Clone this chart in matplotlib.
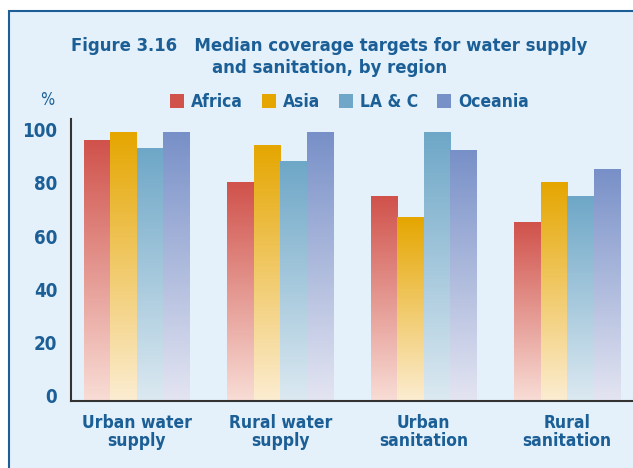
import numpy as np
import matplotlib
matplotlib.use("Agg")
import matplotlib.pyplot as plt
from matplotlib.patches import Rectangle, Patch
from matplotlib.colors import LinearSegmentedColormap

# --- datos ---
categorias = ["Urban water\nsupply", "Rural water\nsupply", "Urban\nsanitation", "Rural\nsanitation"]
regiones = ["Africa", "Asia", "LA & C", "Oceania"]
africa = [96, 80, 75, 65]
asia = [99, 94, 67, 80]
lac = [93, 88, 99, 75]
oceania = [99, 99, 92, 85]
ticks_y = [0, 20, 40, 60, 80, 100]

# colores (arriba, abajo) de cada degradado
colores = [("#d0524b", "#f8ddd6"),
           ("#e5a600", "#fcedd2"),
           ("#6ea7c7", "#dce9f1"),
           ("#7890c8", "#e4e5f2")]

AZUL = "#1b5f96"
FONDO = "#e4f1fb"

plt.rcParams['font.family'] = ['DejaVu Sans']
plt.rcParams['font.stretch'] = 'condensed'

fig = plt.figure(figsize=(6.33, 4.68), dpi=100)
fig.patch.set_facecolor("white")
# marco del recuadro
fig.patches.append(Rectangle((9 / 633, -0.05), 1.2, 1 - 11 / 468 + 0.05,
                             transform=fig.transFigure, facecolor=FONDO,
                             edgecolor=AZUL, lw=1.5, zorder=-5))

ax = fig.add_axes([71 / 633, 67 / 468, 1 - 71 / 633, 282 / 468])
ax.set_facecolor("none")

YMIN, YMAX = -2, 104
ancho = 0.184
x = np.arange(len(categorias))
series = [africa, asia, lac, oceania]

# barras con degradado (oscuro arriba, claro abajo)
for i, (vals, (c_top, c_bot)) in enumerate(zip(series, colores)):
    cmap = LinearSegmentedColormap.from_list("g%d" % i, [c_bot, c_top])
    grad = np.linspace(0, 1, 256).reshape(-1, 1)
    for j, v in enumerate(vals):
        x0 = x[j] + (i - 2) * ancho
        ax.imshow(grad, extent=(x0, x0 + ancho, YMIN, v), origin="lower",
                  cmap=cmap, aspect="auto", zorder=2, interpolation="bilinear")

ax.set_xlim(-0.458, 3.458)
ax.set_ylim(YMIN, YMAX)

for s in ["top", "right"]:
    ax.spines[s].set_visible(False)
for s in ["left", "bottom"]:
    ax.spines[s].set_color("#333333")
    ax.spines[s].set_linewidth(1.5)

ax.set_yticks(ticks_y)
ax.set_yticklabels([str(t) for t in ticks_y], fontsize=13.5, fontweight="bold", color=AZUL)
ax.tick_params(axis="y", length=0, pad=10)
ax.set_xticks(x)
ax.set_xticklabels(categorias, fontsize=12.5, fontweight="bold", color=AZUL, linespacing=1.05)
ax.tick_params(axis="x", length=0, pad=9)

fig.text(0.52, 1 - 57 / 468, "Figure 3.16   Median coverage targets for water supply\nand sanitation, by region",
         ha="center", va="center", fontsize=13.2, fontweight="bold", color=AZUL, linespacing=1.35)
fig.text(47 / 633, 1 - 100 / 468, "%", ha="center", va="center", fontsize=12, color=AZUL)

handles = [Patch(facecolor=c[0], edgecolor="none") for c in colores]
leg = fig.legend(handles, regiones, loc="center", bbox_to_anchor=(0.552, 1 - 102 / 468), ncol=4,
                 frameon=False, handlelength=0.8, handleheight=0.8, handletextpad=0.4,
                 columnspacing=1.1, prop={"size": 12.5, "weight": "bold", "stretch": "condensed"})
for t in leg.get_texts():
    t.set_color(AZUL)

fig.savefig("out.png", dpi=100, facecolor=fig.get_facecolor())
